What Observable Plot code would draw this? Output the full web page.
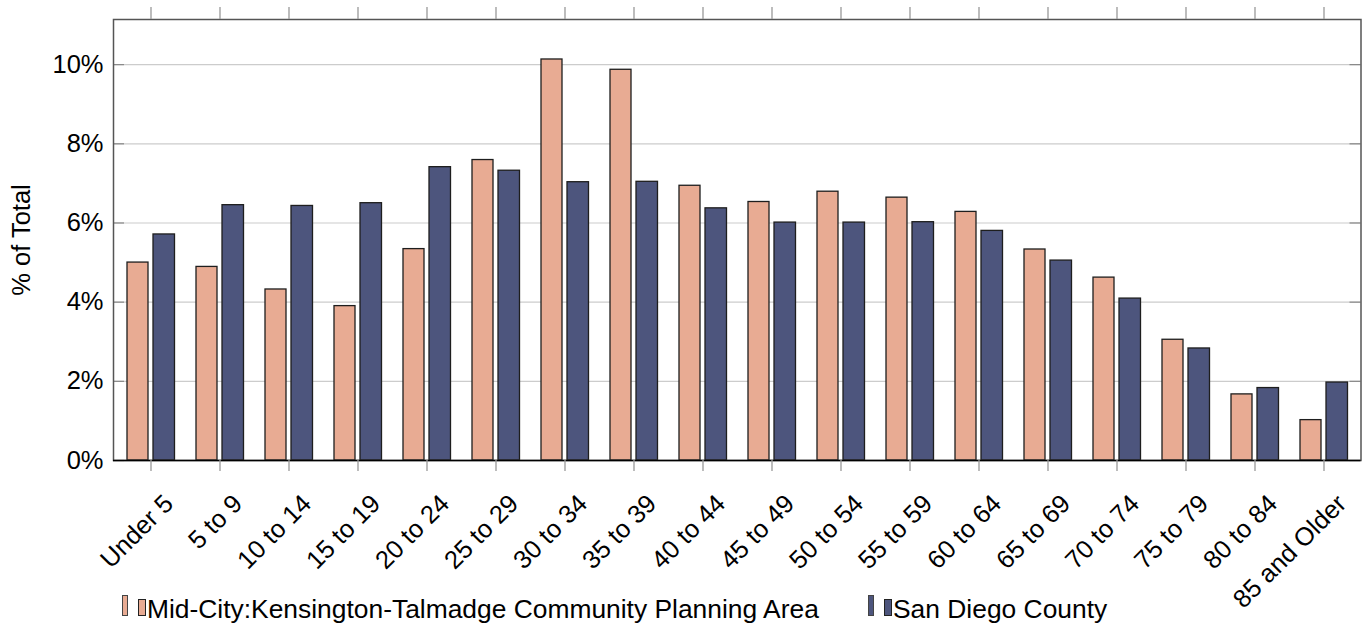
<!DOCTYPE html>
<html>
<head>
<meta charset="utf-8">
<script src="https://cdn.jsdelivr.net/npm/d3@7"></script>
<script src="https://cdn.jsdelivr.net/npm/@observablehq/plot@0.6"></script>
<style>
  html, body { margin: 0; padding: 0; background: #fff; }
  body { font-family: "Liberation Sans", Arial, Helvetica, sans-serif; width: 1364px; }
  #chart svg { display: block; }
  #legend { position: relative; height: 40px; font-size: 26.4px; color: #000; }
  .sw { position: absolute; box-sizing: border-box; }
  .lab { position: absolute; top: 11.6px; line-height: 1; white-space: nowrap; }
</style>
</head>
<body>
<div id="chart"></div>
<div id="legend"></div>
<script>
const ageGroups = ["Under 5","5 to 9","10 to 14","15 to 19","20 to 24","25 to 29","30 to 34","35 to 39","40 to 44","45 to 49","50 to 54","55 to 59","60 to 64","65 to 69","70 to 74","75 to 79","80 to 84","85 and Older"];
const kensington = [5.00, 4.89, 4.32, 3.90, 5.34, 7.59, 10.13, 9.87, 6.94, 6.53, 6.79, 6.64, 6.28, 5.33, 4.62, 3.05, 1.67, 1.02];
const sanDiego   = [5.71, 6.45, 6.43, 6.50, 7.41, 7.32, 7.03, 7.04, 6.37, 6.01, 6.01, 6.02, 5.80, 5.05, 4.09, 2.83, 1.83, 1.97];
const seriesNames = ["Mid-City:Kensington-Talmadge Community Planning Area", "San Diego County"];
const seriesColors = ["#e8ab93", "#4d557d"];
const yTicks = [0, 2, 4, 6, 8, 10];
const yLabel = "% of Total";

const rowsK = ageGroups.map((age, i) => ({age, value: kensington[i]}));
const rowsS = ageGroups.map((age, i) => ({age, value: sanDiego[i]}));

const W = 1364, H = 584;
const mL = 113, mR = 3.5, mT = 19, mB = H - 460;
const innerW = W - mL - mR, innerH = H - mT - mB;
const fs = 25.5;

const chart = Plot.plot({
  width: W, height: H,
  marginLeft: mL, marginRight: mR, marginTop: mT, marginBottom: mB,
  style: {fontFamily: '"Liberation Sans", Arial, Helvetica, sans-serif', background: "#fff", color: "#000", overflow: "visible"},
  x: {type: "band", domain: ageGroups, padding: 0, axis: null},
  y: {domain: [0, 11.14], axis: null},
  marks: [
    Plot.gridY(yTicks, {stroke: "#cccccc", strokeOpacity: 1, strokeWidth: 1.2}),
    Plot.tickY(yTicks, {y: d => d, stroke: "#888", strokeWidth: 1.2, insetRight: innerW - 11}),
    Plot.tickY(yTicks, {y: d => d, stroke: "#888", strokeWidth: 1.2, insetLeft: innerW - 11}),
    Plot.barY(rowsK, {x: "age", y: "value", fill: seriesColors[0], stroke: "#1e1e1e", strokeWidth: 1.3, insetLeft: 11, insetRight: 37}),
    Plot.barY(rowsS, {x: "age", y: "value", fill: seriesColors[1], stroke: "#1e1e1e", strokeWidth: 1.3, insetLeft: 37, insetRight: 10.5}),
    Plot.frame({stroke: "#555", strokeWidth: 1.5}),
    Plot.ruleY([0], {stroke: "#000", strokeWidth: 1.6}),
    Plot.tickX(ageGroups, {x: d => d, stroke: "#999", strokeWidth: 1.3, insetTop: -12, insetBottom: innerH}),
    Plot.tickX(ageGroups, {x: d => d, stroke: "#999", strokeWidth: 1.3, insetTop: innerH, insetBottom: -11}),
    Plot.text(yTicks, {y: d => d, frameAnchor: "left", text: d => `${d}%`, textAnchor: "end", lineAnchor: "middle", dx: -10, fontSize: fs, fill: "#000"}),
    Plot.text([yLabel], {frameAnchor: "left", text: d => d, rotate: -90, textAnchor: "middle", lineAnchor: "middle", dx: -92, fontSize: fs, fill: "#000"}),
    Plot.text(ageGroups, {x: d => d, frameAnchor: "bottom", text: d => d, rotate: -45, textAnchor: "end", lineAnchor: "top", dx: 11, dy: 32, fontSize: fs, fill: "#000"})
  ]
});
document.getElementById("chart").appendChild(chart);

// Legend (HTML below the SVG)
const legendLayout = [
  {r1: 122, r2: 138, t: 147},
  {r1: 868, r2: 884, t: 893}
];
const legend = document.getElementById("legend");
seriesNames.forEach((name, i) => {
  const L = legendLayout[i];
  const a = document.createElement("div");
  a.className = "sw";
  Object.assign(a.style, {left: L.r1 + "px", top: "11px", width: "6px", height: "21px", background: seriesColors[i], border: "1px solid #444"});
  const b = document.createElement("div");
  b.className = "sw";
  Object.assign(b.style, {left: L.r2 + "px", top: "15px", width: "8px", height: "17px", background: seriesColors[i], border: "1.3px solid #222"});
  const t = document.createElement("div");
  t.className = "lab";
  t.style.left = L.t + "px";
  t.textContent = name;
  legend.appendChild(a); legend.appendChild(b); legend.appendChild(t);
});
</script>
</body>
</html>
